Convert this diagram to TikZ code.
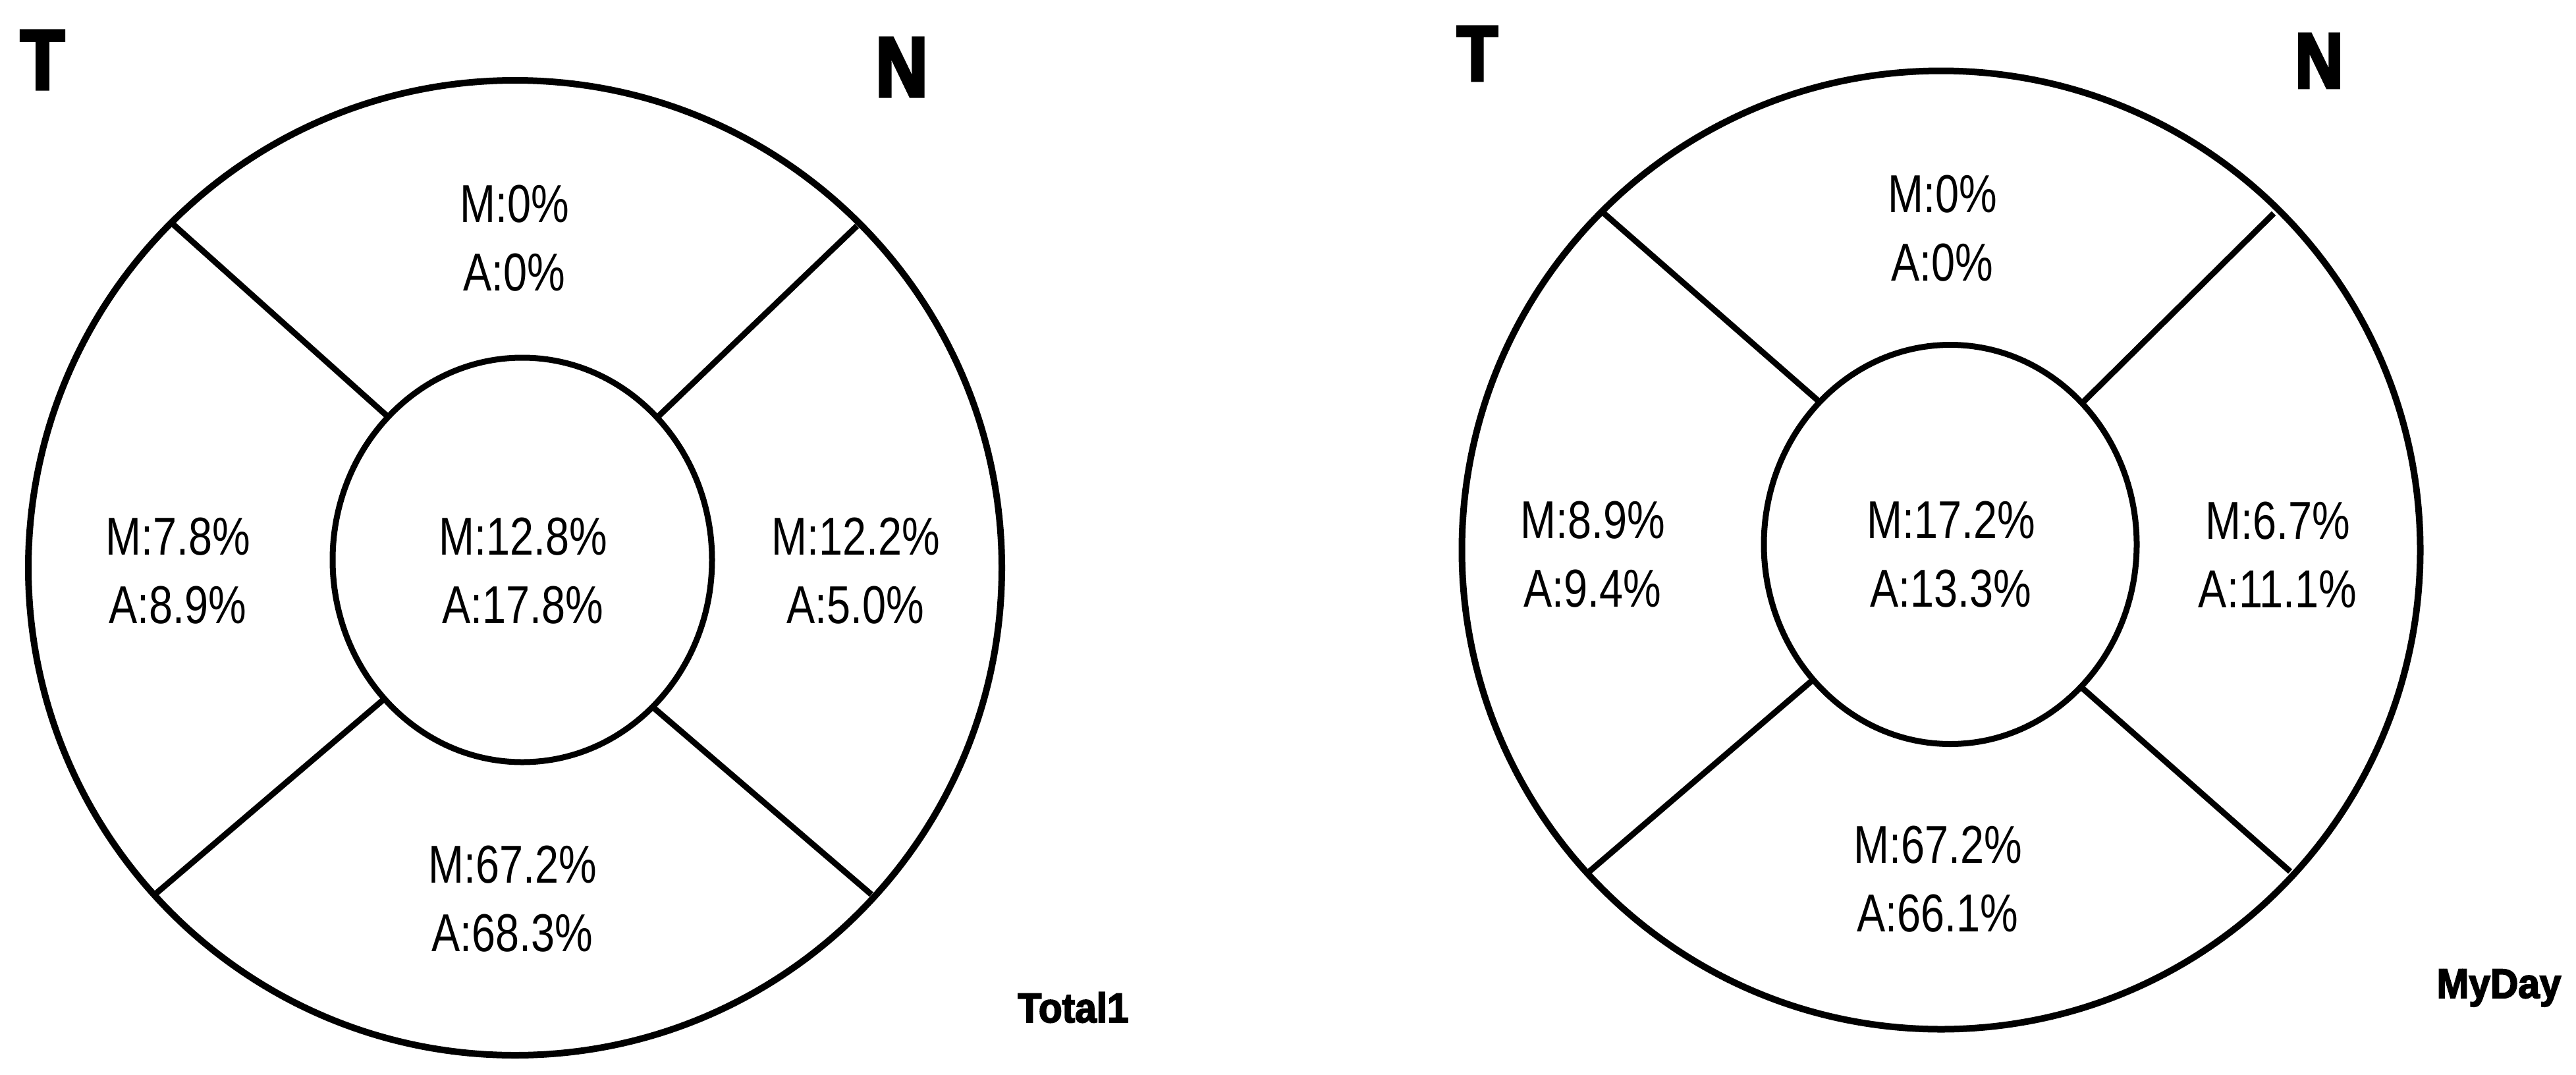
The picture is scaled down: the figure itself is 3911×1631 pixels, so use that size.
\documentclass[tikz,border=0pt]{standalone}
\usepackage{fontspec}
\setmainfont{Liberation Sans}
\newfontfamily\numfont{Liberation Sans}[FakeStretch=0.8]
\newfontfamily\bigfont{Liberation Sans Bold}[FakeStretch=0.85, FakeBold=4]
\newfontfamily\tagfont{Liberation Sans Bold}[FakeStretch=0.93, FakeBold=3]
\usetikzlibrary{shapes.geometric}
\tikzset{
  outerring/.style={ellipse, draw, line width=10pt, inner sep=0pt},
  innerring/.style={ellipse, draw, fill=white, line width=9pt, inner sep=0pt},
  divider/.style={line width=9pt},
  val/.style={font=\numfont\fontsize{81}{104}\selectfont, align=center, inner sep=0pt},
  cornerbig/.style={font=\bigfont\fontsize{128}{128}\selectfont, inner sep=0pt, anchor=base},
  cornersmall/.style={font=\bigfont\fontsize{118}{118}\selectfont, inner sep=0pt, anchor=base},
  tag/.style={font=\tagfont\fontsize{63}{63}\selectfont, inner sep=0pt, anchor=base}
}
\begin{document}
\begin{tikzpicture}[x=1pt, y=-1pt]
\useasboundingbox (0,0) rectangle (3911,1631);
% ---------- left figure ----------
\node[outerring, minimum width=1478pt, minimum height=1480pt] (Lout) at (782,862) {};
\coordinate (Lula) at (260,338);   \coordinate (Lulb) at (605,647);
\coordinate (Lura) at (1301,343);  \coordinate (Lurb) at (985,646);
\coordinate (Llla) at (235,1358);  \coordinate (Lllb) at (594,1052);
\coordinate (Llra) at (1323,1358); \coordinate (Llrb) at (979,1063);
\draw[divider] (Lula) -- (Lulb);
\draw[divider] (Lura) -- (Lurb);
\draw[divider] (Llla) -- (Lllb);
\draw[divider] (Llra) -- (Llrb);
\node[innerring, minimum width=576pt, minimum height=614pt] (Lin) at (793,850) {};
\node[val] (Ltop) at (781,362) {M:0\%\\A:0\%};
\node[val] (Lleft) at (270,866.5) {M:7.8\%\\A:8.9\%};
\node[val] (Lmid) at (794,866.5) {M:12.8\%\\A:17.8\%};
\node[val] (Lright) at (1299,866.5) {M:12.2\%\\A:5.0\%};
\node[val] (Lbot) at (778,1365) {M:67.2\%\\A:68.3\%};
\node[cornerbig] (LT) at (64.5,135) {T};
\node[cornerbig] (LN) at (1369,146) {N};
\node[tag] (Ltag) at (1629.5,1552) {Total1};
% ---------- right figure ----------
\node[outerring, minimum width=1455pt, minimum height=1455pt] (Rout) at (2947,835) {};
\coordinate (Rula) at (2433,322);  \coordinate (Rulb) at (2776,622);
\coordinate (Rura) at (3452,324);  \coordinate (Rurb) at (3151,622);
\coordinate (Rlla) at (2413,1323); \coordinate (Rllb) at (2763,1023);
\coordinate (Rlra) at (3477,1323); \coordinate (Rlrb) at (3146,1031);
\draw[divider] (Rula) -- (Rulb);
\draw[divider] (Rura) -- (Rurb);
\draw[divider] (Rlla) -- (Rllb);
\draw[divider] (Rlra) -- (Rlrb);
\node[innerring, minimum width=566pt, minimum height=606pt] (Rin) at (2961,826.5) {};
\node[val] (Rtop) at (2949,346.5) {M:0\%\\A:0\%};
\node[val] (Rleft) at (2418,842) {M:8.9\%\\A:9.4\%};
\node[val] (Rmid) at (2962,842) {M:17.2\%\\A:13.3\%};
\node[val] (Rright) at (3458,842) {M:6.7\%\\A:11.1\%};
\node[val] (Rbot) at (2942,1335) {M:67.2\%\\A:66.1\%};
\node[cornersmall] (RT) at (2243,122) {T};
\node[cornersmall] (RN) at (3521,133) {N};
\node[tag] (Rtag) at (3794,1515) {MyDay};
\end{tikzpicture}
\end{document}
